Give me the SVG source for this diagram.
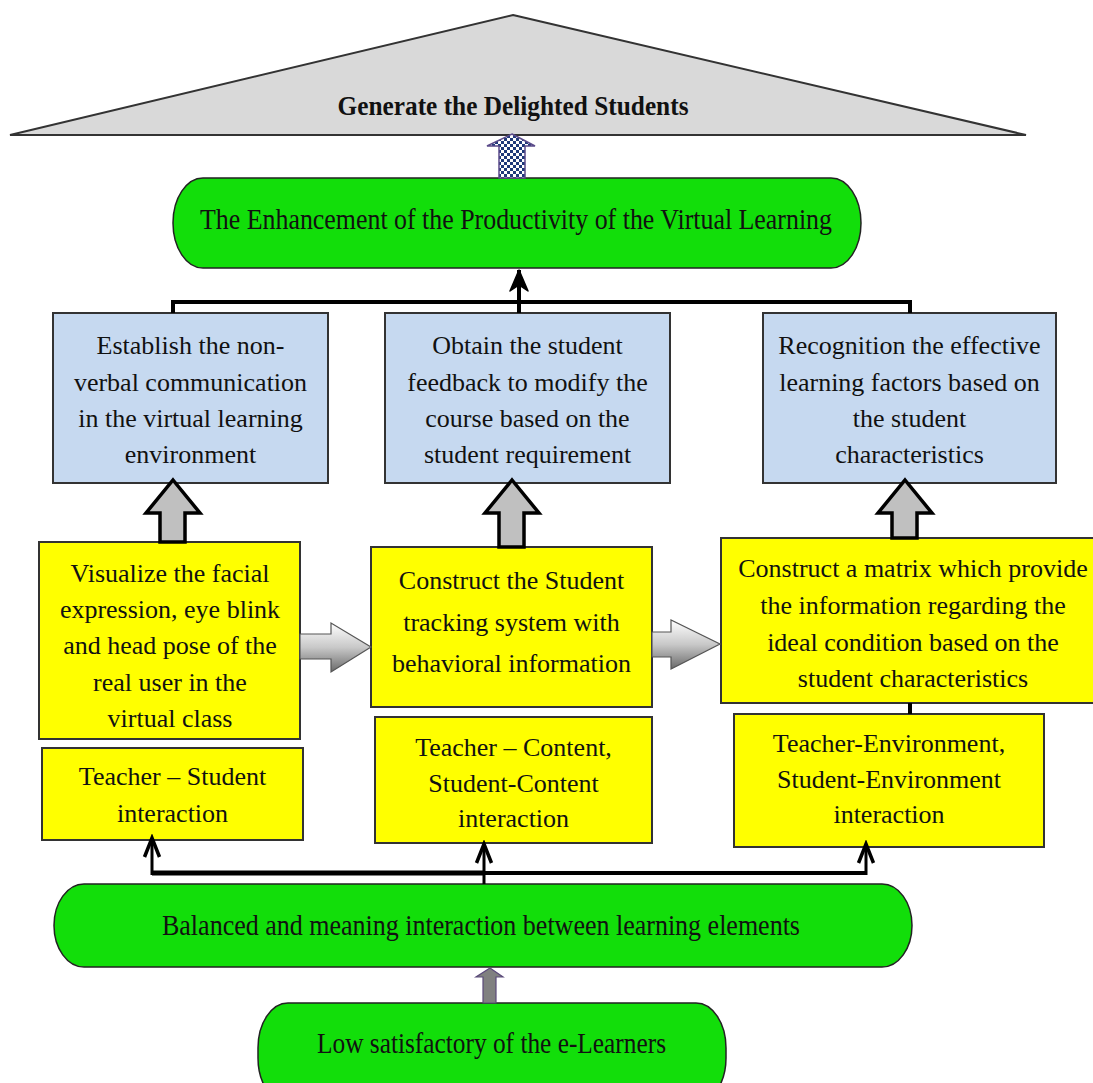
<svg xmlns="http://www.w3.org/2000/svg" width="1093" height="1083" viewBox="0 0 1093 1083">
  <style>
    .txt { font-family: "Liberation Serif", "Times New Roman", serif; font-size: 26px; fill: #111; text-anchor: middle; }
    .head { font-size: 29px; }
    .bold { font-weight: bold; font-size: 27px; }
    .green { fill: #12de0a; stroke: #222; stroke-width: 1.5; }
    .blue { fill: #c6d9f0; stroke: #333; stroke-width: 2; }
    .yellow { fill: #ffff00; stroke: #333; stroke-width: 2; }
    .fat { fill: #c0c0c0; stroke: #000; stroke-width: 3.5; stroke-linejoin: miter; }
    .side { fill: url(#sideGrad); stroke: #555; stroke-width: 1.2; }
    .wire { fill: none; stroke: #000; stroke-width: 4; }
    .thin { fill: none; stroke: #000; stroke-width: 3; }
  </style>
  <defs>
    <pattern id="checker" width="6" height="6" patternUnits="userSpaceOnUse">
      <rect width="6" height="6" fill="#ffffff"/>
      <rect width="3" height="3" fill="#1f3a7a"/>
      <rect x="3" y="3" width="3" height="3" fill="#1f3a7a"/>
    </pattern>
    <linearGradient id="sideGrad" x1="0" y1="0" x2="0" y2="1">
      <stop offset="0" stop-color="#ffffff"/>
      <stop offset="0.5" stop-color="#c8c8c8"/>
      <stop offset="1" stop-color="#6a6a6a"/>
    </linearGradient>
    <!-- open V head for the fan-out arrows -->
    <marker id="vhead" markerUnits="userSpaceOnUse" viewBox="-22 -12 26 24" refX="0" refY="0" markerWidth="26" markerHeight="24" orient="auto">
      <path d="M-19,-7.5 L0,0 L-19,7.5" fill="none" stroke="#000" stroke-width="3.5"/>
    </marker>
    <!-- solid notched head for the main upward arrow -->
    <marker id="shead" markerUnits="userSpaceOnUse" viewBox="-24 -12 26 24" refX="0" refY="0" markerWidth="26" markerHeight="24" orient="auto">
      <path d="M-21,-9 L0,0 L-21,9 L-15,0 Z" fill="#000" stroke="#000" stroke-width="1.5" stroke-linejoin="round"/>
    </marker>
  </defs>

  <!-- goal roof -->
  <g id="goal">
    <polygon points="513,15 1026,135 10,135" fill="#d9d9d9" stroke="#333" stroke-width="2"/>
    <text class="txt bold" x="513" y="115" textLength="351" lengthAdjust="spacingAndGlyphs">Generate the Delighted Students</text>
  </g>

  <!-- productivity outcome -->
  <g id="productivity">
    <rect class="green" x="173" y="178" width="688" height="90" rx="30" ry="45"/>
    <text class="txt head" x="516" y="229" textLength="632" lengthAdjust="spacingAndGlyphs">The Enhancement of the Productivity of the Virtual Learning</text>
  </g>

  <!-- objectives -->
  <g id="objective-nonverbal">
    <rect class="blue" x="53" y="313" width="275" height="170"/>
    <text class="txt" x="190.5" y="354">Establish the non-</text>
    <text class="txt" x="190.5" y="390.5">verbal communication</text>
    <text class="txt" x="190.5" y="427">in the virtual learning</text>
    <text class="txt" x="190.5" y="463">environment</text>
  </g>
  <g id="objective-feedback">
    <rect class="blue" x="385" y="313" width="285" height="170"/>
    <text class="txt" x="527.5" y="354">Obtain the student</text>
    <text class="txt" x="527.5" y="390.5">feedback to modify the</text>
    <text class="txt" x="527.5" y="427">course based on the</text>
    <text class="txt" x="527.5" y="463">student requirement</text>
  </g>
  <g id="objective-factors">
    <rect class="blue" x="763" y="313" width="293" height="170"/>
    <text class="txt" x="909.5" y="354">Recognition the effective</text>
    <text class="txt" x="909.5" y="390.5">learning factors based on</text>
    <text class="txt" x="909.5" y="427">the student</text>
    <text class="txt" x="909.5" y="463">characteristics</text>
  </g>

  <!-- methods -->
  <g id="method-visualize">
    <rect class="yellow" x="39" y="542" width="261" height="197"/>
    <text class="txt" x="170" y="582">Visualize the facial</text>
    <text class="txt" x="170" y="618">expression, eye blink</text>
    <text class="txt" x="170" y="654">and head pose of the</text>
    <text class="txt" x="170" y="690.5">real user in the</text>
    <text class="txt" x="170" y="726.5">virtual class</text>
  </g>
  <g id="method-tracking">
    <rect class="yellow" x="371" y="547" width="281" height="160"/>
    <text class="txt" x="511.5" y="589">Construct the Student</text>
    <text class="txt" x="511.5" y="631">tracking system with</text>
    <text class="txt" x="511.5" y="671.5">behavioral information</text>
  </g>
  <g id="method-matrix">
    <rect class="yellow" x="721" y="538" width="385" height="165"/>
    <text class="txt" x="913" y="577">Construct a matrix which provide</text>
    <text class="txt" x="913" y="614">the information regarding the</text>
    <text class="txt" x="913" y="651">ideal condition based on the</text>
    <text class="txt" x="913" y="687">student characteristics</text>
  </g>

  <!-- interaction types -->
  <g id="interaction-student">
    <rect class="yellow" x="42" y="748" width="261" height="92"/>
    <text class="txt" x="172.5" y="785">Teacher – Student</text>
    <text class="txt" x="172.5" y="822">interaction</text>
  </g>
  <g id="interaction-content">
    <rect class="yellow" x="375" y="717" width="277" height="126"/>
    <text class="txt" x="513.5" y="756">Teacher – Content,</text>
    <text class="txt" x="513.5" y="792">Student-Content</text>
    <text class="txt" x="513.5" y="827">interaction</text>
  </g>
  <g id="interaction-environment">
    <rect class="yellow" x="734" y="714" width="310" height="133"/>
    <text class="txt" x="889" y="752">Teacher-Environment,</text>
    <text class="txt" x="889" y="788">Student-Environment</text>
    <text class="txt" x="889" y="823">interaction</text>
  </g>

  <!-- balanced interaction -->
  <g id="balanced">
    <rect class="green" x="54" y="884" width="858" height="83" rx="30" ry="41.5"/>
    <text class="txt head" x="481" y="935" textLength="638" lengthAdjust="spacingAndGlyphs">Balanced and meaning interaction between learning elements</text>
  </g>

  <!-- problem statement -->
  <g id="problem">
    <rect class="green" x="258" y="1003" width="468" height="100" rx="30" ry="45"/>
    <text class="txt head" x="491.5" y="1053" textLength="349" lengthAdjust="spacingAndGlyphs">Low satisfactory of the e-Learners</text>
  </g>

  <g id="connectors">
    <!-- patterned arrow into the roof -->
    <polygon points="512,134 535,146 525,146 525,178 499,178 499,146 487,146" fill="url(#checker)" stroke="#5b4b8a" stroke-width="1.5"/>

    <!-- objectives bracket up to productivity -->
    <path class="wire" d="M173,313 L173,302 L910,302 L910,313"/>
    <path class="wire" d="M519,313 L519,270" marker-end="url(#shead)"/>

    <!-- fat arrows: methods to objectives -->
    <polygon class="fat" points="173,480 200,513 185,513 185,542 160,542 160,513 146,513"/>
    <polygon class="fat" points="512,480 539,513 524,513 524,547 499,547 499,513 485,513"/>
    <polygon class="fat" points="905,480 932,513 917,513 917,538 892,538 892,513 878,513"/>

    <!-- side arrows between methods -->
    <polygon class="side" points="300,634 331,634 331,623 371,647 331,672 331,659 300,659"/>
    <polygon class="side" points="652,632 671,632 671,620 720,644 671,669 671,657 652,657"/>

    <!-- stub joining matrix and environment boxes -->
    <path class="wire" d="M910,703 L910,714"/>

    <!-- fan-out from balanced interaction -->
    <path fill="none" stroke="#000" stroke-width="5" d="M152,873 L484,873"/>
    <path class="wire" d="M484,873 L866,873"/>
    <path class="thin" d="M152,875 L152,838" marker-end="url(#vhead)"/>
    <path class="thin" d="M484,884 L484,844" marker-end="url(#vhead)"/>
    <path class="thin" d="M866,875 L866,844" marker-end="url(#vhead)"/>

    <!-- problem to balanced -->
    <polygon points="490,968 503,977 496,977 496,1003 483,1003 483,977 476,977" fill="#808080" stroke="#5a4a7a" stroke-width="1.2"/>
  </g>
</svg>
